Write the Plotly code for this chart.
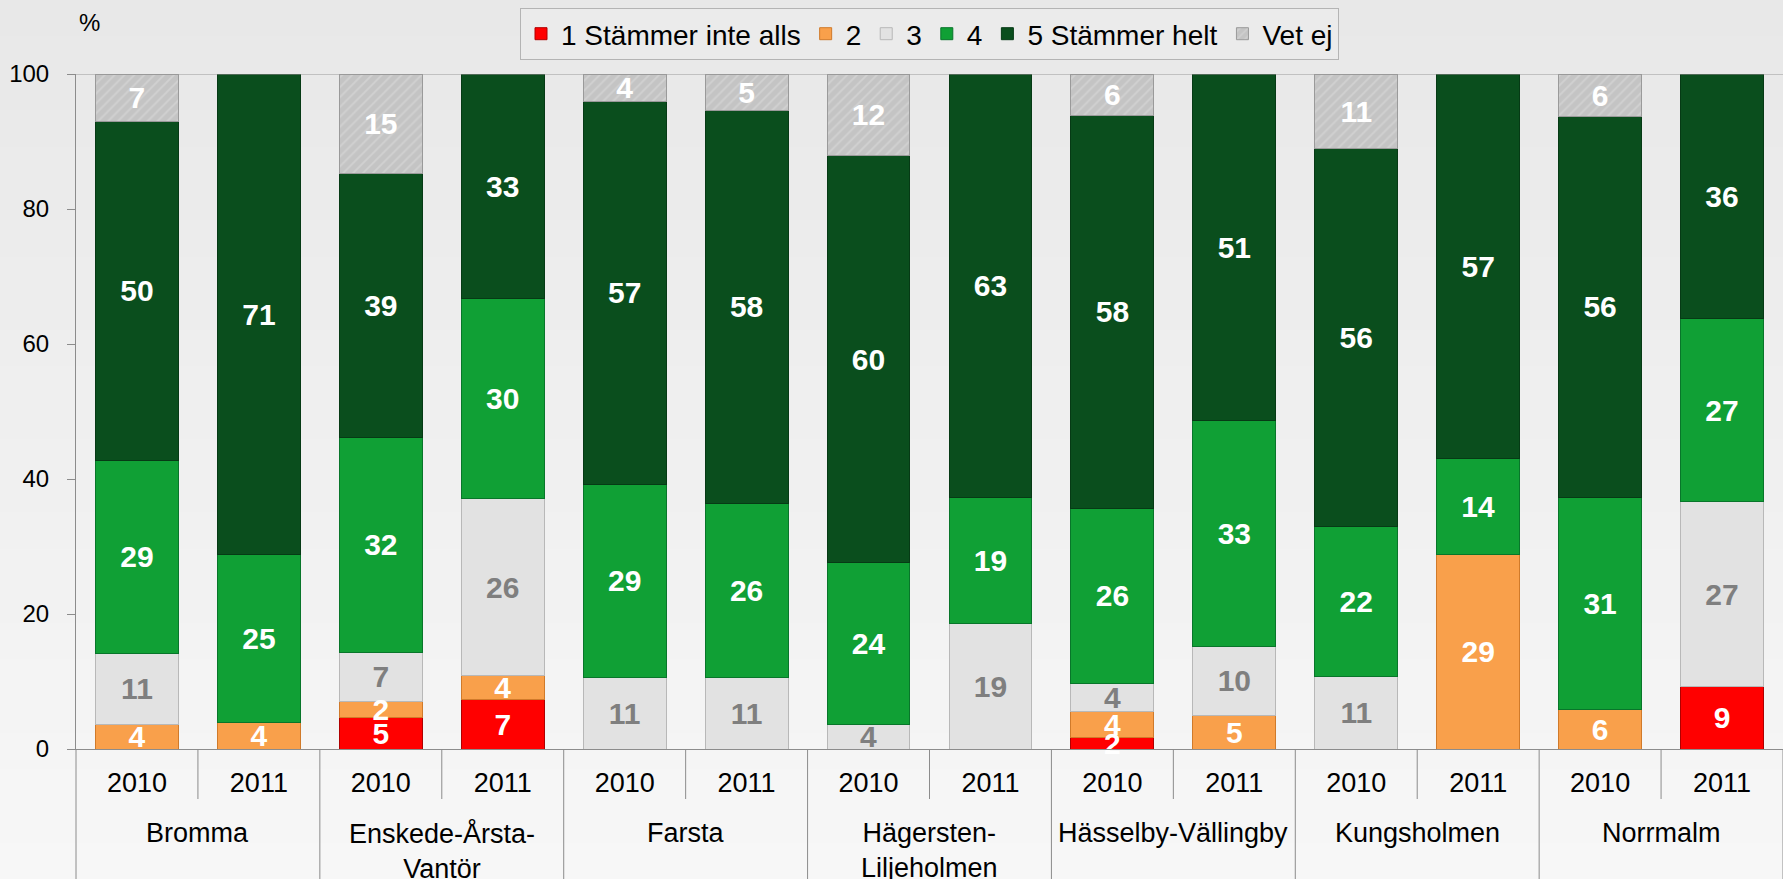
import plotly.graph_objects as go

# ---- data ----
districts = ["Bromma", "Enskede-Årsta-<br>Vantör", "Farsta", "Hägersten-<br>Liljeholmen",
             "Hässelby-Vällingby", "Kungsholmen", "Norrmalm"]
years = ["2010", "2011"]

series_names = ["1 Stämmer inte alls", "2", "3", "4", "5 Stämmer helt", "Vet ej"]
s1 = [None, None, 4.7, 7.3, None, None, None, None, 1.7, None, None, None, None, 9.2]
s2 = [3.6, 3.9, 2.4, 3.6, None, None, None, None, 3.8, 5.0, None, 28.8, 5.9, None]
s3 = [10.6, None, 7.2, 26.2, 10.6, 10.6, 3.7, 18.6, 4.2, 10.2, 10.8, None, None, 27.4]
s4 = [28.6, 24.9, 31.9, 29.6, 28.6, 25.8, 23.9, 18.7, 26.0, 33.4, 22.1, 14.2, 31.4, 27.2]
s5 = [50.2, 71.2, 39.0, 33.3, 56.8, 58.2, 60.3, 62.7, 58.2, 51.4, 56.1, 57.0, 56.4, 36.2]
s_vet = [7.0, None, 14.8, None, 4.0, 5.4, 12.1, None, 6.1, None, 11.0, None, 6.3, None]

y_ticks = [0, 20, 40, 60, 80, 100]

# ---- styling ----
W, H = 1783, 879
ML, MR, MT, MB = 76, 0, 74, 130
PH = H - MT - MB
FONT = "Liberation Sans, Arial, sans-serif"

colors = ["#ff0000", "#f9a04b", "#e2e2e2", "#10a035", "#0a4e1d", "#c4c4c4"]
edge = ["#b00000", "#d07a2a", "#b8b8b8", "#08762a", "#063a15", "#9a9a9a"]
text_colors = ["white", "white", "#7f7f7f", "white", "white", "white"]

x_keys = [f"{d}|{y}" for d in districts for y in years]
x_year_text = [y for _ in districts for y in years]

fig = go.Figure()
all_series = [s1, s2, s3, s4, s5, s_vet]
# bars
for i, (name, vals) in enumerate(zip(series_names, all_series)):
    marker = dict(color=colors[i], line=dict(color=edge[i], width=1))
    if name == "Vet ej":
        marker["pattern"] = dict(shape="/", fgcolor="#dedede", size=7, solidity=0.25)
    fig.add_trace(go.Bar(
        name=name, x=x_keys, y=vals, marker=marker,
        textposition="none", hoverinfo="name+y",
    ))
# value labels, drawn on an overlaying copy of the axes so they sit above all bars
for i, (name, vals) in enumerate(zip(series_names, all_series)):
    fig.add_trace(go.Bar(
        name=name, x=x_keys, y=vals, xaxis="x2", yaxis="y2",
        marker=dict(color="rgba(0,0,0,0)", line=dict(width=0)),
        showlegend=False, hoverinfo="skip",
        texttemplate="%{y:.0f}", textposition="inside", insidetextanchor="middle",
        textangle=0, cliponaxis=False,
        textfont=dict(family=FONT, size=30, color=text_colors[i], weight="bold"),
    ))

# background gradient (decoration)
shapes = []
n_bands = 24
y_lo = -MB / PH
y_hi = 1 + MT / PH
for k in range(n_bands):
    t = k / (n_bands - 1)
    c = int(round(0xf7 + (0xe8 - 0xf7) * t))
    shapes.append(dict(type="rect", xref="paper", yref="paper", layer="below",
                       x0=-ML / (W - ML - MR), x1=1.0,
                       y0=y_lo + (y_hi - y_lo) * k / n_bands,
                       y1=y_lo + (y_hi - y_lo) * (k + 1) / n_bands + 0.002,
                       fillcolor=f"rgb({c},{c},{c})", line=dict(width=0)))

n_cat = len(x_keys)
# inner separators (between years)
for k in range(1, n_cat, 2):
    shapes.append(dict(type="line", xref="paper", yref="paper",
                       x0=k / n_cat, x1=k / n_cat, y0=0, y1=-50 / PH,
                       line=dict(color="#8c8c8c", width=1)))
# group dividers
for k in range(0, n_cat + 1, 2):
    shapes.append(dict(type="line", xref="paper", yref="paper",
                       x0=k / n_cat, x1=k / n_cat, y0=0, y1=-MB / PH,
                       line=dict(color="#8c8c8c", width=1)))
# top line at 100
shapes.append(dict(type="line", xref="paper", yref="y", x0=0, x1=1, y0=100, y1=100,
                   line=dict(color="#9a9a9a", width=1)))

annotations = [dict(text="%", xref="paper", yref="paper",
                    x=(89 - ML) / (W - ML - MR), y=1 + (MT - 23) / PH,
                    yanchor="middle", xanchor="center",
                    showarrow=False, font=dict(family=FONT, size=24, color="black"))]
# district group labels under the year labels
for j, d in enumerate(districts):
    annotations.append(dict(text=d, xref="x", yref="paper", x=2 * j + 0.5,
                            y=-(816 - (H - MB)) / PH, yanchor="top", xanchor="center",
                            showarrow=False, align="center",
                            font=dict(family=FONT, size=27, color="black")))

fig.update_layout(
    width=W, height=H,
    barmode="stack",
    bargap=0.32,
    paper_bgcolor="#eeeeee",
    plot_bgcolor="rgba(0,0,0,0)",
    margin=dict(l=ML, r=MR, t=MT, b=MB),
    font=dict(family=FONT, size=24, color="black"),
    uniformtext=dict(mode="show", minsize=30),
    showlegend=True,
    legend=dict(orientation="h", x=0.5, xanchor="center", xref="paper",
                y=1 + (MT - 8) / PH, yanchor="top",
                bgcolor="#ebebeb", bordercolor="#b4b4b4", borderwidth=1,
                font=dict(family=FONT, size=28, color="black"),
                traceorder="normal"),
    xaxis=dict(type="category", tickvals=x_keys, ticktext=x_year_text, ticks="",
               showline=True, linecolor="#8c8c8c", linewidth=1,
               tickfont=dict(family=FONT, size=27, color="black"),
               ticklabelstandoff=10, tickangle=0,
               automargin=False, showgrid=False),
    yaxis=dict(range=[0, 100], tickvals=y_ticks, ticks="outside", ticklen=8,
               tickcolor="#8c8c8c", showline=True, linecolor="#8c8c8c", linewidth=1,
               showgrid=False, zeroline=False, ticklabelstandoff=13,
               tickfont=dict(family=FONT, size=24, color="black"), automargin=False),
    xaxis2=dict(type="category", overlaying="x", matches="x", visible=False),
    yaxis2=dict(overlaying="y", matches="y", range=[0, 100], visible=False),
    shapes=shapes,
    annotations=annotations,
)

fig.write_html("out.html", config={"displayModeBar": False},
               post_script="document.body.style.margin='0px';document.body.style.overflow='hidden';")
